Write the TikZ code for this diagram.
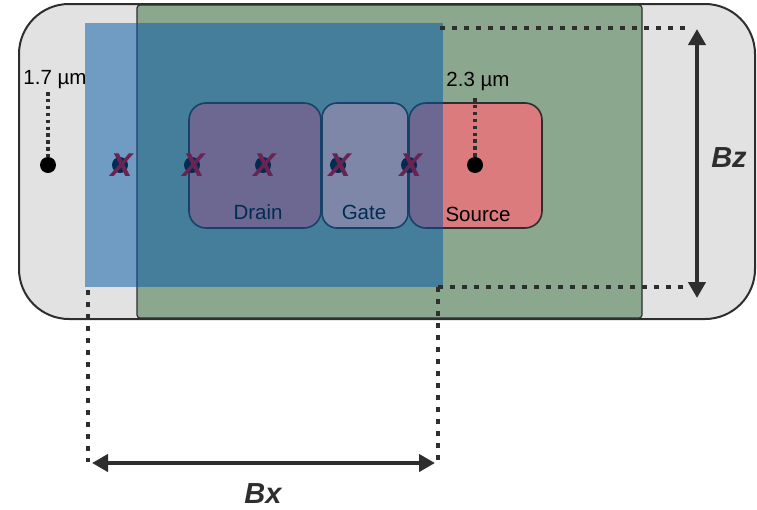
\documentclass[tikz,border=0pt]{standalone}
\usepackage{fontspec}
\setmainfont{Liberation Sans}
\usetikzlibrary{arrows.meta}
\definecolor{casegray}{HTML}{E2E2E2}
\definecolor{edge}{HTML}{2E2E2E}
\definecolor{mesagreen}{HTML}{8BA88E}
\definecolor{pinkfill}{HTML}{DB7B7E}
\definecolor{gatefill}{HTML}{FFBAAE}
\definecolor{beamblue}{RGB}{0,86,166}
\definecolor{markx}{HTML}{6A2452}
\tikzset{
  padbox/.style={draw=edge, line width=1.6pt, rounded corners=17pt},
  padlabel/.style={anchor=base, font=\fontsize{20.5}{20.5}\selectfont, inner sep=0pt},
  dimlabel/.style={anchor=base, font=\fontsize{20.5}{20.5}\selectfont, inner sep=0pt},
  leader/.style={draw=edge, line width=4pt, dash pattern=on 3.5pt off 3.4pt},
  extline/.style={draw=edge, line width=4.5pt, dash pattern=on 4.5pt off 7.5pt},
  dimarrow/.style={draw=edge, line width=4pt, {Triangle[width=17pt,length=16pt]}-{Triangle[width=17pt,length=16pt]}},
  bigaxis/.style={anchor=base, font=\fontsize{29}{29}\selectfont\bfseries\itshape, text=edge, inner sep=0pt},
  probe/.style={circle, fill=black, inner sep=0pt, minimum size=16pt},
  xmark/.style={font=\fontsize{33}{33}\selectfont\bfseries\itshape, text=markx, inner sep=0pt}
}
\begin{document}
\begin{tikzpicture}[x=1pt,y=-1pt]
\useasboundingbox (0,0) rectangle (757,509);

% chip outline and mesa
\draw[fill=casegray, draw=edge, line width=2pt, rounded corners=50pt] (19,4) rectangle (755,319);
\draw[fill=mesagreen, draw=edge, line width=1.2pt, rounded corners=3pt] (137,5) rectangle (642,318);

% contacts
\draw[padbox, fill=pinkfill] (189,103) rectangle (321,228);
\draw[padbox, fill=gatefill, rounded corners=15pt] (322,103) rectangle (408,228);
\draw[padbox, fill=pinkfill] (409,103) rectangle (542,228);
\node[padlabel] (drain) at (258,219) {Drain};
\node[padlabel] (gate) at (364,219) {Gate};
\node[padlabel] (source) at (478,221) {Source};

% probe points under the beam
\node[probe] (p1) at (120,165) {};
\node[probe] (p2) at (192,165) {};
\node[probe] (p3) at (263,165) {};
\node[probe] (p4) at (338,165) {};
\node[probe] (p5) at (409,165) {};

% reference points with their depths
\node[probe] (lref) at (48,165) {};
\node[probe] (rref) at (475,165) {};
\node[dimlabel] (ldepth) at (55,84) {1.7 µm};
\node[dimlabel] (rdepth) at (478,86) {2.3 µm};
\coordinate (ltop) at (48,92);
\coordinate (rtop) at (475,98);
\draw[leader] (ltop) -- (lref.north);
\draw[leader] (rtop) -- (rref.north);

% beam footprint
\fill[beamblue, fill opacity=0.5] (85,23) rectangle (443,287);

% excluded probe points
\foreach \n in {1,...,5}{
  \node[xmark] (x\n) at ([xshift=1.5pt]p\n) {X};
}

% beam extent guides
\coordinate (ztop0) at (440,28);
\coordinate (ztop1) at (690,28);
\coordinate (zbot0) at (438,287);
\coordinate (zbot1) at (690,287);
\coordinate (xl0) at (88,290);
\coordinate (xl1) at (88,462);
\coordinate (xr0) at (438,287);
\coordinate (xr1) at (438,462);
\draw[extline] (ztop0) -- (ztop1);
\draw[extline] (zbot0) -- (zbot1);
\draw[extline] (xl0) -- (xl1);
\draw[extline] (xr0) -- (xr1);

% dimension arrows
\coordinate (za) at (697,29);
\coordinate (zb) at (697,298);
\coordinate (xa) at (92,463);
\coordinate (xb) at (435,463);
\draw[dimarrow] (za) -- (zb);
\draw[dimarrow] (xa) -- (xb);
\node[bigaxis] (bz) at (729,167) {Bz};
\node[bigaxis] (bx) at (263,503.5) {Bx};
\end{tikzpicture}
\end{document}
